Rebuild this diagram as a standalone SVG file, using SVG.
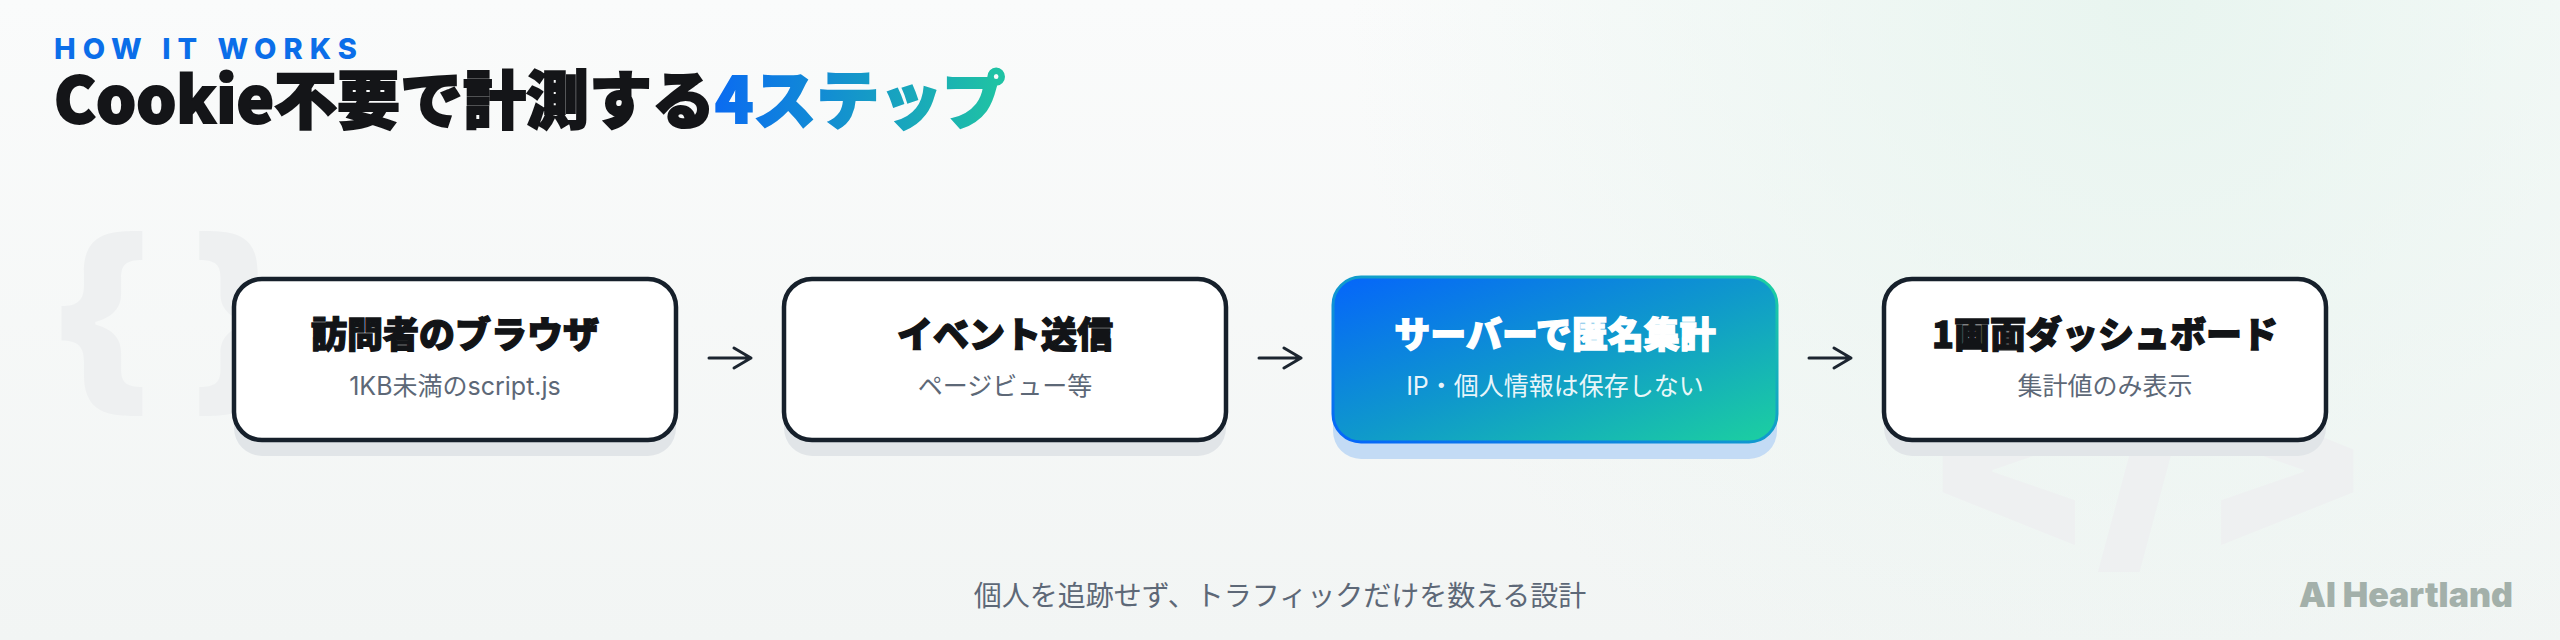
<svg xmlns="http://www.w3.org/2000/svg" width="2560" height="640" viewBox="0 0 2560 640">
<defs>
<linearGradient id="bg" x1="0" y1="0" x2="0" y2="1">
<stop offset="0" stop-color="#fafbfb"/>
<stop offset="1" stop-color="#f2f5f4"/>
</linearGradient>
<radialGradient id="tint" cx="2150" cy="0" r="800" gradientUnits="userSpaceOnUse">
<stop offset="0" stop-color="#e6f4ee" stop-opacity="0.9"/>
<stop offset="1" stop-color="#e6f4ee" stop-opacity="0"/>
</radialGradient>
<linearGradient id="titleGrad" x1="712" y1="0" x2="996" y2="0" gradientUnits="userSpaceOnUse">
<stop offset="0" stop-color="#0a6af2"/>
<stop offset="1" stop-color="#1fc2a4"/>
</linearGradient>
<linearGradient id="nodeGrad" x1="0" y1="0" x2="1" y2="1">
<stop offset="0" stop-color="#0565fb"/>
<stop offset="0.5" stop-color="#0f98cc"/>
<stop offset="1" stop-color="#1cd0a0"/>
</linearGradient>
<linearGradient id="nodeStroke" x1="1" y1="0" x2="0" y2="1">
<stop offset="0" stop-color="#1cd0a0"/>
<stop offset="1" stop-color="#0565fb"/>
</linearGradient>
<style>
.card{fill:#ffffff;stroke:#16202b;stroke-width:4.5}
.shadow{fill:#e1e5e8}
.ttl{font-family:"Noto Sans CJK JP",sans-serif;font-weight:900;font-size:36px;fill:#121417;stroke:#121417;stroke-width:1.3px;paint-order:stroke;text-anchor:middle}
.ttl-w{fill:#ffffff;stroke:#ffffff}
.sub{font-family:Inter,"Noto Sans CJK JP",sans-serif;font-weight:400;font-size:25px;fill:#5d6877;text-anchor:middle}
.arrow{fill:none;stroke:#1c2530;stroke-width:3;stroke-linecap:round;stroke-linejoin:round}
.deco{font-family:Inter,"Noto Sans CJK JP",sans-serif;font-weight:900;fill:#eef0f1}
</style>
</defs>
<rect width="2560" height="640" fill="url(#bg)"/>
<rect width="2560" height="640" fill="url(#tint)"/>
<g id="decorations">
<text class="deco" x="48" y="388" font-size="203">{ }</text>
<text class="deco" x="2148" y="545" font-size="250" text-anchor="middle">&lt;/&gt;</text>
</g>
<g id="header">
<text x="54" y="59" font-family="Inter,sans-serif" font-weight="800" font-size="29" letter-spacing="7" fill="#0b6ee9">HOW IT WORKS</text>
<text x="54" y="123" font-family="Noto Sans CJK JP,sans-serif" font-weight="900" font-size="63" fill="#141518" stroke="#141518" stroke-width="2" paint-order="stroke">Cookie不要で計測する<tspan fill="url(#titleGrad)" stroke="url(#titleGrad)">4ステップ</tspan></text>
</g>
<g id="connectors">
<path class="arrow" d="M709 358H751M734 348L751 358L734 368"/>
<path class="arrow" d="M1259 358H1301M1284 348L1301 358L1284 368"/>
<path class="arrow" d="M1809 358H1851M1834 348L1851 358L1834 368"/>
</g>
<g id="node1">
<rect class="shadow" x="234" y="295" width="442" height="161" rx="28"/>
<rect class="card" x="234" y="279" width="442" height="161" rx="28"/>
<text class="ttl" x="455" y="348">訪問者のブラウザ</text>
<text class="sub" x="455" y="395">1KB未満のscript.js</text>
</g>
<g id="node2">
<rect class="shadow" x="784" y="295" width="442" height="161" rx="28"/>
<rect class="card" x="784" y="279" width="442" height="161" rx="28"/>
<text class="ttl" x="1005" y="348">イベント送信</text>
<text class="sub" x="1005" y="395">ページビュー等</text>
</g>
<g id="node3">
<rect x="1333" y="294" width="444" height="165" rx="28" fill="#c3dbf5"/>
<rect x="1333" y="277" width="444" height="165" rx="28" fill="url(#nodeGrad)" stroke="url(#nodeStroke)" stroke-width="3"/>
<text class="ttl ttl-w" x="1555" y="348">サーバーで匿名集計</text>
<text class="sub" x="1555" y="395" style="fill:#ffffff" fill-opacity="0.92">IP・個人情報は保存しない</text>
</g>
<g id="node4">
<rect class="shadow" x="1884" y="295" width="442" height="161" rx="28"/>
<rect class="card" x="1884" y="279" width="442" height="161" rx="28"/>
<text class="ttl" x="2105" y="348">1画面ダッシュボード</text>
<text class="sub" x="2105" y="395">集計値のみ表示</text>
</g>
<g id="footer">
<text x="1280" y="606" font-family="Inter,Noto Sans CJK JP,sans-serif" font-size="28" fill="#5d6877" text-anchor="middle">個人を追跡せず、トラフィックだけを数える設計</text>
<text x="2513" y="607" font-family="Inter,sans-serif" font-weight="900" font-size="34" fill="#a3b0aa" text-anchor="end">AI Heartland</text>
</g>
</svg>
